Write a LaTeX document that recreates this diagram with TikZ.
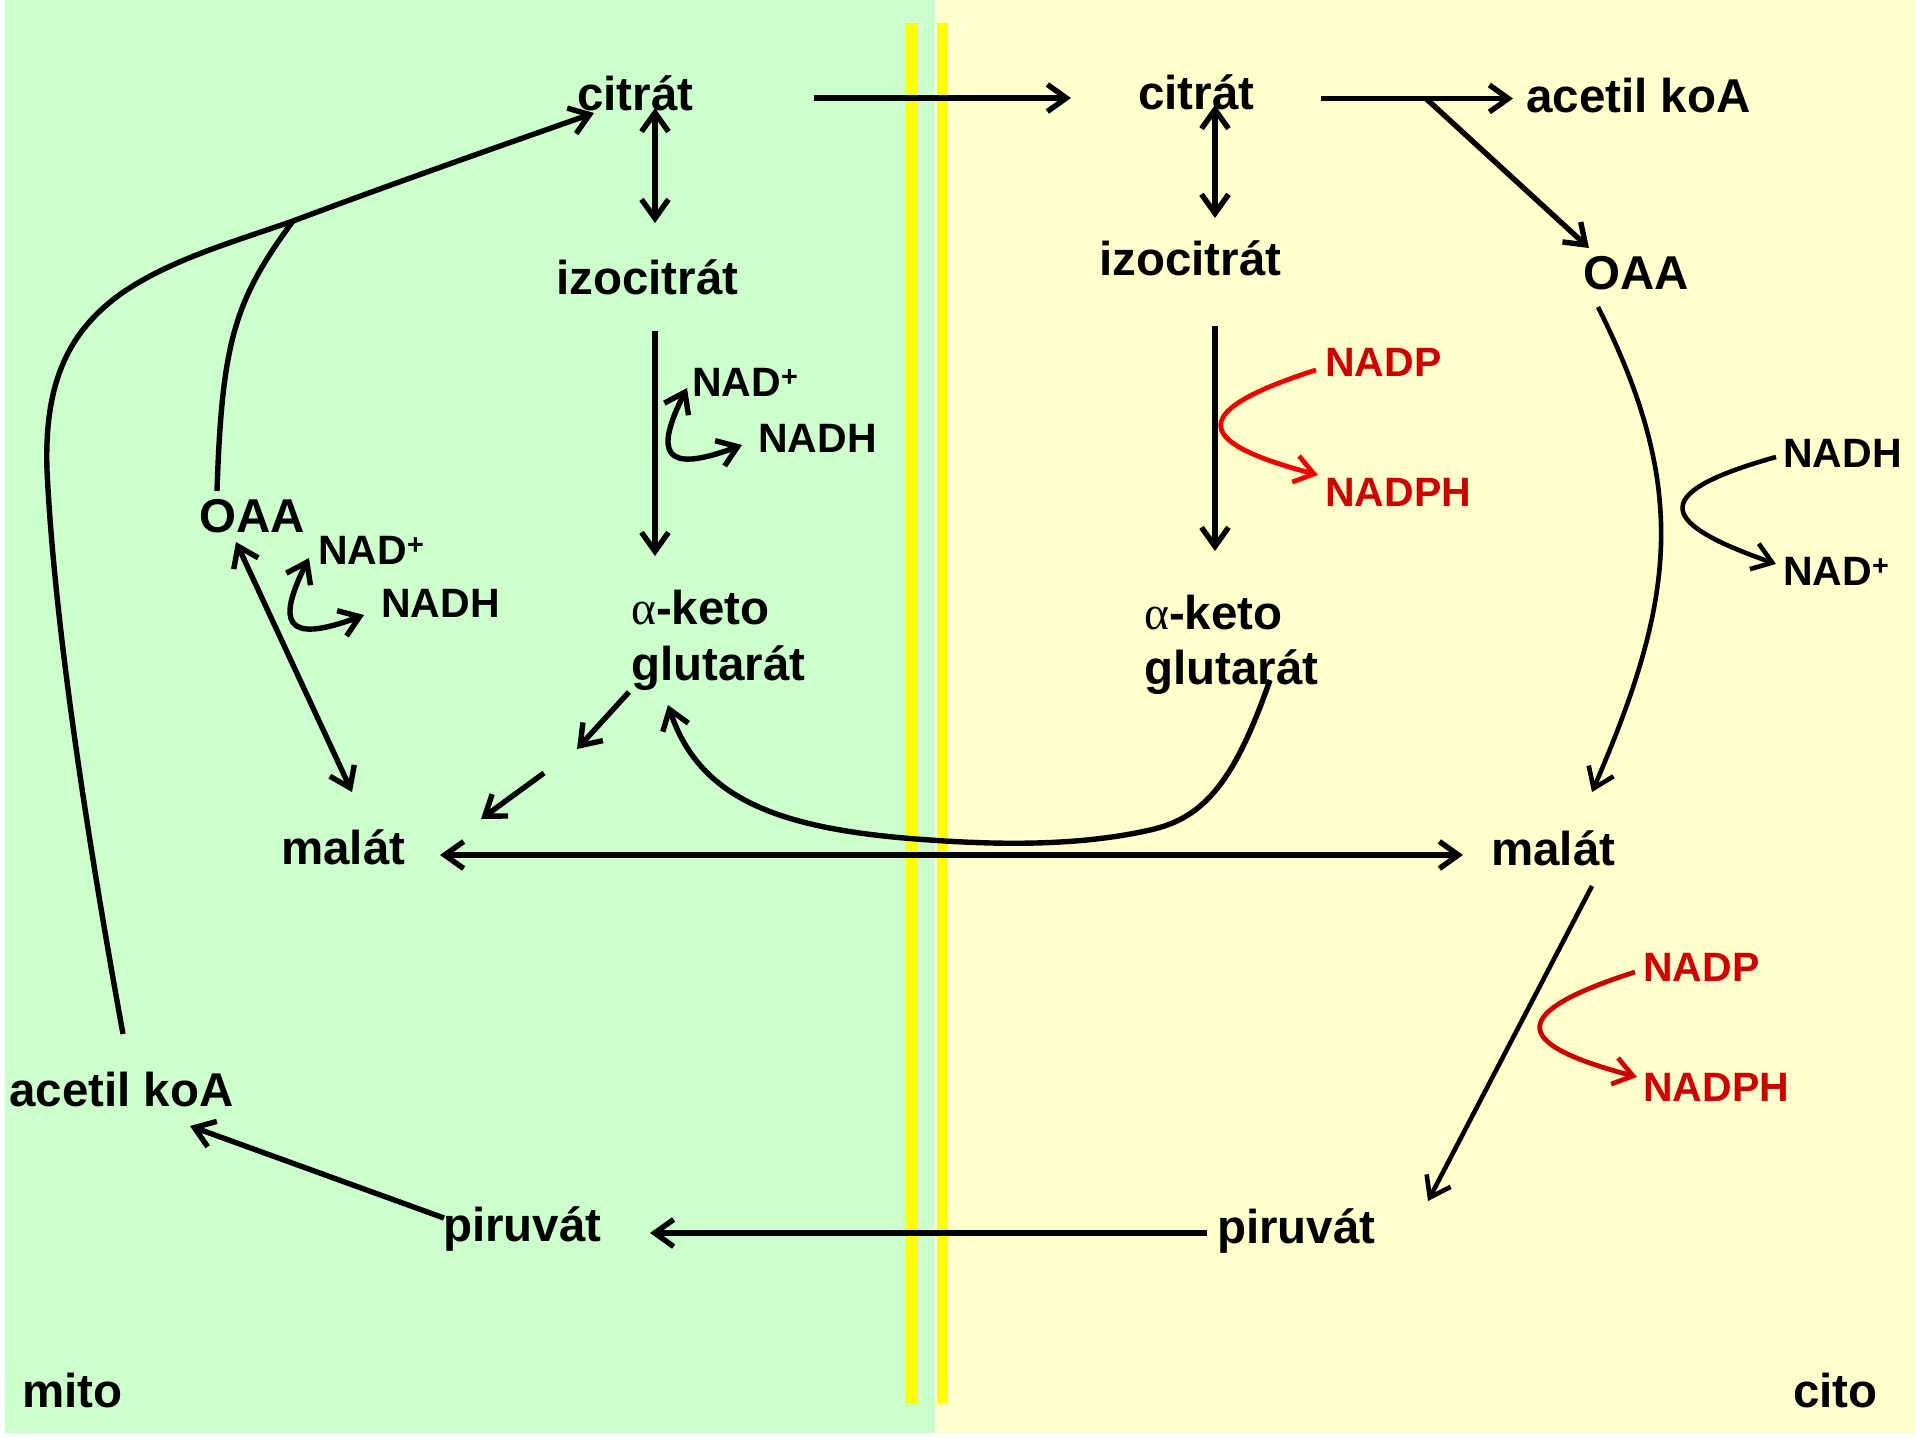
\documentclass[tikz,border=0pt]{standalone}
\usepackage{fontspec}
\setmainfont{Liberation Sans}
\newfontfamily\greekfont{Liberation Serif}
\usetikzlibrary{arrows.meta}
\definecolor{mitobg}{HTML}{CCFFCC}
\definecolor{citobg}{HTML}{FFFFCC}
\definecolor{membr}{HTML}{FFFF00}
\definecolor{redtxt}{HTML}{CC0000}
\definecolor{redline}{HTML}{EE0000}
\newcommand{\alf}{{\greekfont\mdseries α}}
\begin{document}
\begin{tikzpicture}[x=1pt,y=-1pt,
  lbl/.style={inner sep=0pt, anchor=base west, font=\fontsize{47.5}{56}\selectfont\bfseries},
  sml/.style={inner sep=0pt, anchor=base west, font=\fontsize{41}{49}\selectfont\bfseries},
  redlbl/.style={sml, text=redtxt},
  conn/.style={line width=5.4pt, line join=round},
  thin/.style={line width=4.6pt, line join=round},
  redconn/.style={line width=4.8pt, draw=redline},
  >={Straight Barb[length=19pt,width=27pt]}]
\useasboundingbox (0,0) rectangle (1915,1438);
\fill[white] (0,0) rectangle (1915,1438);
% compartments
\fill[mitobg] (5,0) rectangle (935,1433);
\fill[citobg] (936,0) rectangle (1915,1433);
\fill[membr] (906,23) rectangle (918,1403);
\fill[membr] (937,23) rectangle (948,1403);

% ---- mito labels
\node[lbl] (citM) at (577,110) {citrát};
\node[lbl] (izoM) at (556,294) {izocitrát};
\node[sml] (nadpM1) at (692,396) {NAD\textsuperscript{+}};
\node[sml] (nadhM1) at (758,452) {NADH};
\node[lbl] (oaaM) at (199,532) {OAA};
\node[sml] (nadpM2) at (318,564) {NAD\textsuperscript{+}};
\node[sml] (nadhM2) at (381,617) {NADH};
\node[lbl] (akgM1) at (631,624) {\alf-keto};
\node[lbl] (akgM) at (631,680) {glutarát};
\node[lbl] (malM) at (281,864) {malát};
\node[lbl] (acoaM) at (9,1106) {acetil koA};
\node[lbl] (pyrM) at (443,1241) {piruvát};
\node[lbl] (mito) at (22,1407) {mito};

% ---- cyto labels
\node[lbl] (citC) at (1138,109) {citrát};
\node[lbl] (acoaC) at (1526,112) {acetil koA};
\node[lbl] (izoC) at (1099,275) {izocitrát};
\node[lbl] (oaaC) at (1583,289) {OAA};
\node[redlbl] (nadpC1) at (1325,376) {NADP};
\node[redlbl] (nadphC1) at (1325,506) {NADPH};
\node[sml] (nadhC) at (1783,467) {NADH};
\node[sml] (nadC) at (1783,585) {NAD\textsuperscript{+}};
\node[lbl] (akgC1) at (1144,629) {\alf-keto};
\node[lbl] (akgC) at (1144,684) {glutarát};
\node[lbl] (malC) at (1491,865) {malát};
\node[redlbl] (nadpC2) at (1643,981) {NADP};
\node[redlbl] (nadphC2) at (1643,1101) {NADPH};
\node[lbl] (pyrC) at (1217,1243) {piruvát};
\node[lbl] (cito) at (1793,1407) {cito};

% ---- connector end points
\coordinate (citMout) at (814,98);
\coordinate (citCin) at (1071,98);
\coordinate (citCout) at (1321,98.5);
\coordinate (acoaCin) at (1513,98.5);
\coordinate (branch) at (1426,98.5);
\coordinate (oaaCin) at (1589,248);
\coordinate (citMdn) at (655,108);
\coordinate (izoMup) at (655,223);
\coordinate (izoMdn) at (655,331);
\coordinate (akgMup) at (655,556);
\coordinate (citCdn) at (1215,105);
\coordinate (izoCup) at (1215,218);
\coordinate (izoCdn) at (1215,326);
\coordinate (akgCup) at (1215,551);
\coordinate (oaaMdn) at (236,542);
\coordinate (malMup) at (352,792);
\coordinate (oaaMup) at (217,491);
\coordinate (join) at (293,221);
\coordinate (acoaMup) at (123,1034);
\coordinate (citMin) at (594,113);
\coordinate (akgMdn) at (629,692);
\coordinate (dashA) at (577,749);
\coordinate (dashB) at (544,773);
\coordinate (malMin) at (481,819);
\coordinate (akgCdn) at (1270,680);
\coordinate (akgMin) at (668,705);
\coordinate (malMr) at (440,855);
\coordinate (malCl) at (1463,855);
\coordinate (pyrCl) at (1207,1233);
\coordinate (pyrMr) at (650,1233);
\coordinate (pyrMl) at (444,1218);
\coordinate (acoaMin) at (190,1126);
\coordinate (oaaCdn) at (1598,307);
\coordinate (malCin) at (1592,792);
\coordinate (malCdn) at (1592,886);
\coordinate (pyrCin) at (1428,1201);
\coordinate (nadM1in) at (687,388);
\coordinate (nadhM1in) at (742,445);
\coordinate (nadM2in) at (309,558);
\coordinate (nadhM2in) at (364,615);

% ---- mito connectors
\draw[conn,->] (citMout) -- (citCin);
\draw[conn,<->] (citMdn) -- (izoMup);
\draw[conn,->] (izoMdn) -- (akgMup);
\draw[conn,<->] (nadM1in) .. controls (655,452) and (662,475) .. (nadhM1in);
\draw[conn,<->] (oaaMdn) -- (malMup);
\draw[conn,<->] (nadM2in) .. controls (277,622) and (284,645) .. (nadhM2in);
\draw[conn] (oaaMup) .. controls (222,340) and (235,300) .. (join);
\draw[conn,->] (acoaMup) .. controls (95,880) and (55,640) .. (47,470)
  .. controls (44,380) and (70,330) .. (122,293)
  .. controls (170,260) and (230,243) .. (join)
  .. controls (400,181) and (500,146) .. (citMin);
\draw[conn,->] (akgMdn) -- (dashA);
\draw[conn,->] (dashB) -- (malMin);
\draw[conn,->] (pyrMl) -- (acoaMin);

% ---- crossing connectors
\draw[conn,->] (akgCdn) .. controls (1235,780) and (1205,818) .. (1150,830)
  .. controls (1080,846) and (1000,845) .. (930,840)
  .. controls (780,830) and (700,800) .. (akgMin);
\draw[conn,<->] (malMr) -- (malCl);
\draw[conn,->] (pyrCl) -- (pyrMr);

% ---- cyto connectors
\draw[conn,->] (citCout) -- (acoaCin);
\draw[conn,->] (branch) -- (oaaCin);
\draw[conn,<->] (citCdn) -- (izoCup);
\draw[conn,->] (izoCdn) -- (akgCup);
\draw[redconn,->] (1316,370) .. controls (1175,415) and (1205,445) .. (1318,475);
\draw[thin,->] (oaaCdn) .. controls (1690,490) and (1675,600) .. (malCin);
\draw[thin,->] (1776,457) .. controls (1640,495) and (1665,525) .. (1776,564);
\draw[thin,->] (malCdn) -- (pyrCin);
\draw[redconn,draw=redtxt,->] (1635,972) .. controls (1494,1017) and (1524,1047) .. (1637,1077);
\end{tikzpicture}
\end{document}
